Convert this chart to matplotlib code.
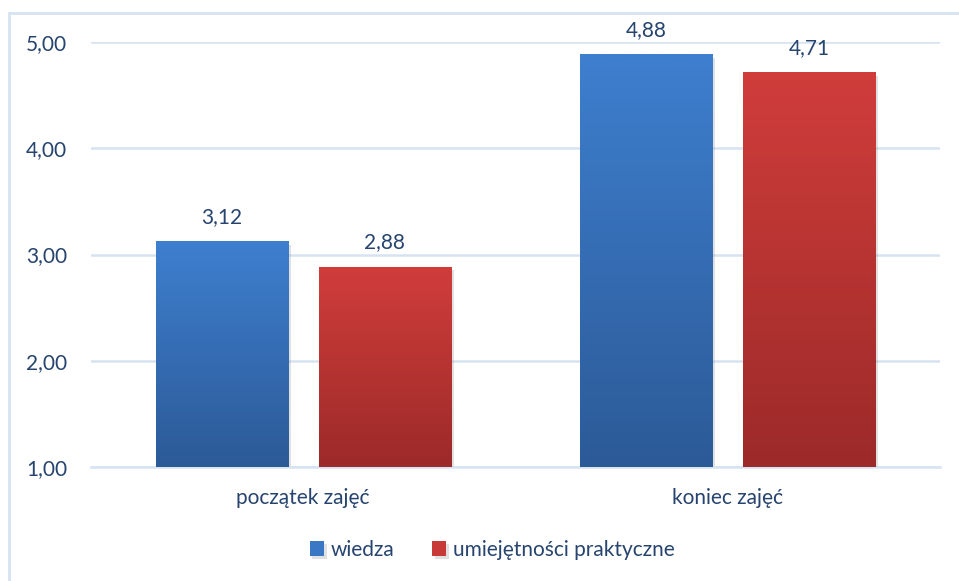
import matplotlib
matplotlib.use("Agg")
import matplotlib.pyplot as plt
import numpy as np
from matplotlib.colors import LinearSegmentedColormap
from matplotlib.patches import Rectangle
import matplotlib.patheffects as pe

categories = ["początek zajęć", "koniec zajęć"]
series_names = ["wiedza", "umiejętności praktyczne"]
wiedza = [3.12, 4.88]
umiejetnosci = [2.88, 4.71]
yticks = [1, 2, 3, 4, 5]

plt.rcParams['font.family'] = ['Lato', 'DejaVu Sans']
txt = '#26446f'
grid_c = '#d6e3f1'

fig = plt.figure(figsize=(9.59, 5.81), dpi=100)
W, H = 959, 581
ax = fig.add_axes([91 / W, 1 - 467 / H, (940 - 91) / W, (467 - 42) / H])

# outer frame
fig.patches.append(Rectangle((9 / W, -0.05), 1.1, 1 - 13 / H + 0.05, transform=fig.transFigure,
                             fill=False, edgecolor=grid_c, linewidth=2, zorder=0))

x = np.arange(len(categories))
bw = 0.311
off = 0.192
grads = [
    LinearSegmentedColormap.from_list('b', ['#2c5a97', '#3e7fcf']),
    LinearSegmentedColormap.from_list('r', ['#9c2a29', '#d03d3b']),
]
base_cols = ['#3a77c4', '#c83a38']
grad = np.linspace(0, 1, 256).reshape(-1, 1)

for i, (vals, cm) in enumerate(zip([wiedza, umiejetnosci], grads)):
    pos = x + (-off if i == 0 else off)
    bars = ax.bar(pos, np.array(vals) - 1, bw, bottom=1, color=base_cols[i], zorder=2,
                  label=series_names[i], linewidth=0,
                  path_effects=[pe.SimplePatchShadow(offset=(2, -2), shadow_rgbFace='#888888', alpha=0.25), pe.Normal()])
    for b, v in zip(bars, vals):
        x0 = b.get_x()
        ax.imshow(grad, cmap=cm, origin='lower', aspect='auto',
                  extent=(x0, x0 + bw, 1, v), zorder=3)
        ax.text(b.get_x() + bw / 2, v + 0.14, f"{v:.2f}".replace('.', ','), ha='center', va='bottom',
                fontsize=15, color=txt, zorder=4)

ax.set_xlim(-0.5, 1.5)
ax.set_ylim(1, 5)
ax.set_yticks(yticks)
ax.set_yticklabels([f"{t:.2f}".replace('.', ',') for t in yticks], fontsize=15, color=txt)
ax.set_xticks(x)
ax.set_xticklabels(categories, fontsize=15, color=txt)
ax.tick_params(length=0)
ax.tick_params(axis='y', pad=17)
ax.tick_params(axis='x', pad=15)
ax.grid(axis='y', color=grid_c, linewidth=1.8, zorder=0)
ax.set_axisbelow(True)
for s in ['top', 'right', 'left']:
    ax.spines[s].set_visible(False)
ax.spines['bottom'].set_color(grid_c)
ax.spines['bottom'].set_linewidth(1.8)
ax.set_facecolor('none')

leg = fig.legend(loc='center', bbox_to_anchor=(492 / W, 1 - 550 / H), ncol=2, frameon=False,
                 fontsize=15, handlelength=0.7, handleheight=0.7, handletextpad=0.3, columnspacing=1.8,
                 labelcolor=txt)

fig.savefig('out.png', dpi=100)
